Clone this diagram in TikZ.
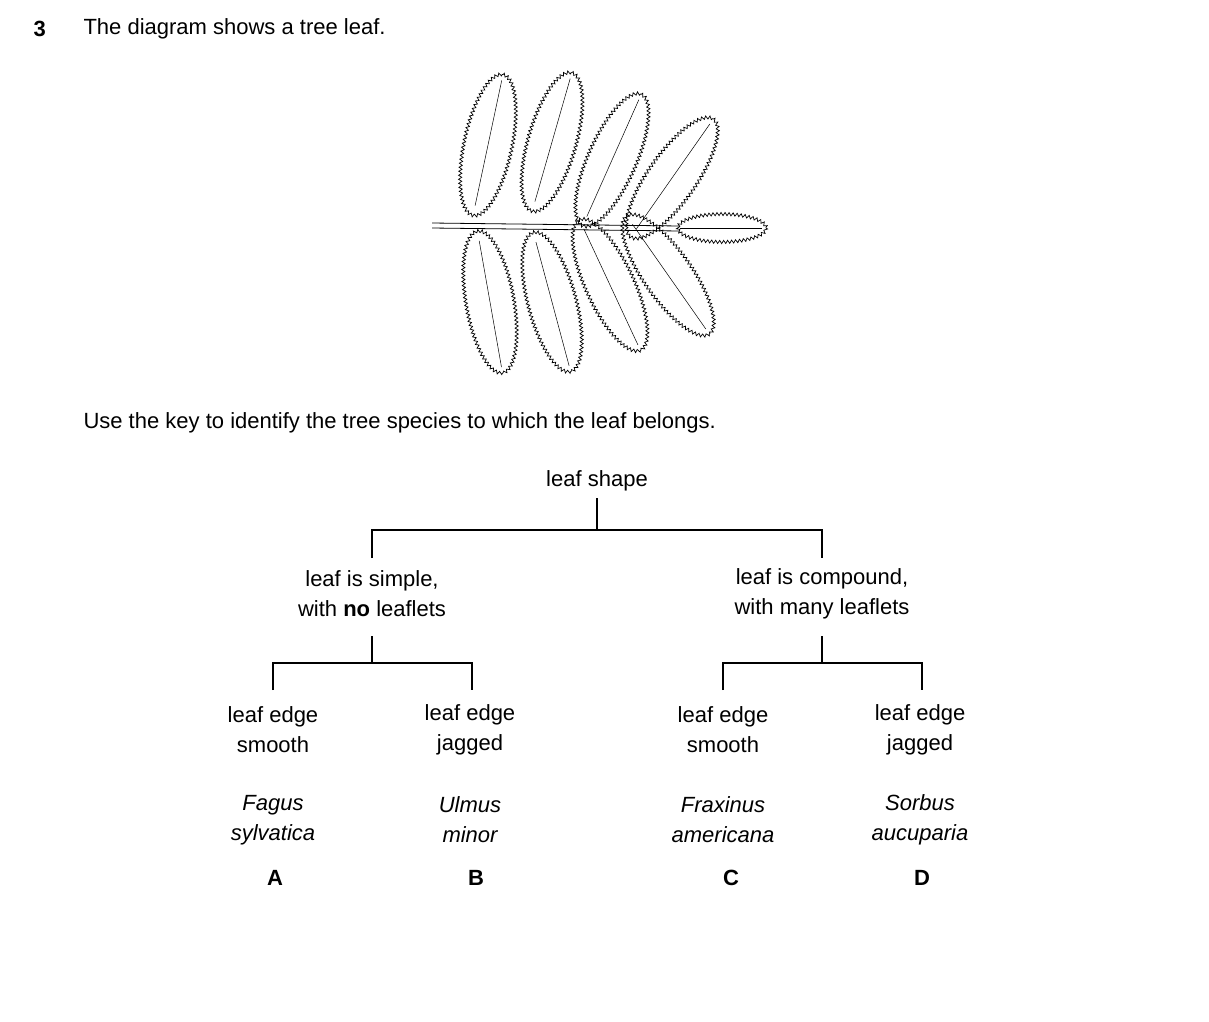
\documentclass[tikz,border=0pt]{standalone}
\usepackage{fontspec}
\setmainfont{Liberation Sans}
\usetikzlibrary{decorations.pathmorphing}
\tikzset{
  txt/.style={font=\fontsize{22}{30}\selectfont, align=center},
  key/.style={line width=1.3pt},
  leaflet/.style={decorate, decoration={zigzag, segment length=4, amplitude=1.6}, line width=0.7pt},
}
\begin{document}
\begin{tikzpicture}[x=1pt, y=-1pt]
\useasboundingbox (0,0) rectangle (1209,1021);
\node[txt, anchor=west, font=\fontsize{22}{30}\selectfont\bfseries] (qnum) at (30,29) {3};
\node[txt, anchor=west] (intro) at (80,29) {The diagram shows a tree leaf.};
% leaf
\draw[line width=0.8pt] (432,223) -- (680,226);
\draw[line width=0.8pt] (432,228) -- (680,231);
\foreach \cx/\cy/\r in {488/145/78, 552/142/74, 612/160/66, 672/178/55} {
  \draw[leaflet, rotate around={\r:(\cx,\cy)}] (\cx,\cy) ellipse (72 and 24);
  \draw[line width=0.5pt, rotate around={\r:(\cx,\cy)}] (\cx+66,\cy) -- (\cx-62,\cy);
}
\foreach \cx/\cy/\r in {490/302/-80, 552/302/-75, 610/285/-65, 668/275/-55} {
  \draw[leaflet, rotate around={\r:(\cx,\cy)}] (\cx,\cy) ellipse (72 and 24);
  \draw[line width=0.5pt, rotate around={\r:(\cx,\cy)}] (\cx+66,\cy) -- (\cx-62,\cy);
}
\draw[leaflet] (722,228) ellipse (44 and 14);
\draw[line width=0.5pt] (680,228) -- (762,228);
\node[txt, anchor=west] (use) at (80,423) {Use the key to identify the tree species to which the leaf belongs.};
% key
\node[txt] (shape) at (597,481) {leaf shape};
\node[txt] (simple) at (372,594) {leaf is simple,\\with \textbf{no} leaflets};
\node[txt] (compound) at (822,594) {leaf is compound,\\with many leaflets};
\node[txt] (sm1) at (273,730) {leaf edge\\smooth};
\node[txt] (jg1) at (470,730) {leaf edge\\jagged};
\node[txt] (sm2) at (723,730) {leaf edge\\smooth};
\node[txt] (jg2) at (920,730) {leaf edge\\jagged};
\node[txt, font=\fontsize{22}{30}\selectfont\itshape] (fagus) at (273,820) {Fagus\\sylvatica};
\node[txt, font=\fontsize{22}{30}\selectfont\itshape] (ulmus) at (470,820) {Ulmus\\minor};
\node[txt, font=\fontsize{22}{30}\selectfont\itshape] (fraxinus) at (723,820) {Fraxinus\\americana};
\node[txt, font=\fontsize{22}{30}\selectfont\itshape] (sorbus) at (920,820) {Sorbus\\aucuparia};
\node[txt, font=\fontsize{22}{30}\selectfont\bfseries] (A) at (275,878) {A};
\node[txt, font=\fontsize{22}{30}\selectfont\bfseries] (B) at (476,878) {B};
\node[txt, font=\fontsize{22}{30}\selectfont\bfseries] (C) at (731,878) {C};
\node[txt, font=\fontsize{22}{30}\selectfont\bfseries] (D) at (922,878) {D};
\coordinate (top) at (597,498);
\coordinate (jt) at (597,530);
\coordinate (jl) at (372,636);
\coordinate (jr) at (822,636);
\draw[key] (top) -- (jt);
\draw[key] (simple.north |- 0,558) -- (simple.north |- jt) -- (compound.north |- jt) -- (compound.north |- 0,558);
\draw[key] (jl) -- (372,663);
\draw[key] (273,690) -- (273,663) -- (472,663) -- (472,690);
\draw[key] (jr) -- (822,663);
\draw[key] (723,690) -- (723,663) -- (922,663) -- (922,690);
\end{tikzpicture}
\end{document}
